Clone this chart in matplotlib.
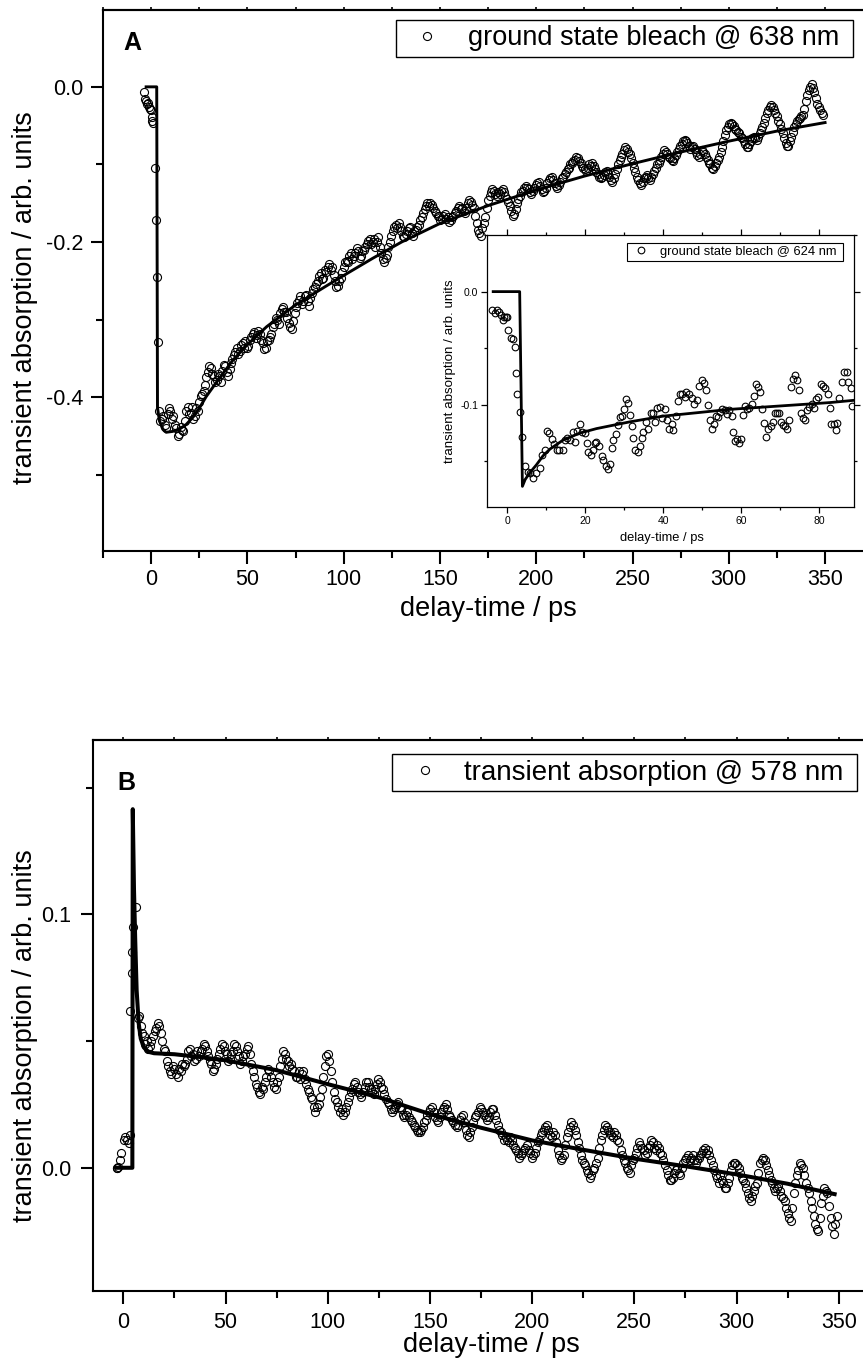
import numpy as np
import matplotlib
matplotlib.use("Agg")
import matplotlib.pyplot as plt
from matplotlib.ticker import MultipleLocator, FuncFormatter

plt.rcParams['font.family'] = ['Liberation Sans', 'DejaVu Sans']
plt.rcParams['axes.unicode_minus'] = False

# ---------------- Panel A: ground state bleach @ 638 nm ----------------
a_early_t = [-3.8, -3.3, -2.8, -2.3, -1.8, -1.3, -0.8, -0.3, 0.2, 0.7, 1.2, 2.1, 2.6, 3.3, 3.5]
a_early_v = [-0.006, -0.016, -0.018, -0.022, -0.021, -0.026, -0.028, -0.030, -0.039, -0.044,
             -0.046, -0.105, -0.172, -0.245, -0.329]
# delay grid (1.5 ps step) and the interleaved half-step grid
a_t = np.arange(4.0, 349.01, 1.5)
a_v = [-0.418, -0.428, -0.436, -0.422, -0.418, -0.424, -0.440, -0.447, -0.442, -0.430,
       -0.412, -0.420, -0.428, -0.414, -0.406, -0.396, -0.384, -0.368, -0.362, -0.372,
       -0.378, -0.372, -0.366, -0.360, -0.372, -0.356, -0.346, -0.336, -0.340, -0.330,
       -0.328, -0.334, -0.322, -0.316, -0.320, -0.318, -0.330, -0.336, -0.326, -0.318,
       -0.306, -0.300, -0.292, -0.284, -0.290, -0.304, -0.312, -0.292, -0.278, -0.270,
       -0.276, -0.268, -0.282, -0.266, -0.258, -0.250, -0.240, -0.246, -0.238, -0.228,
       -0.232, -0.250, -0.256, -0.246, -0.232, -0.224, -0.218, -0.222, -0.214, -0.212,
       -0.218, -0.210, -0.202, -0.196, -0.200, -0.206, -0.194, -0.214, -0.226, -0.216,
       -0.200, -0.186, -0.178, -0.176, -0.186, -0.194, -0.186, -0.180, -0.192, -0.184,
       -0.178, -0.168, -0.158, -0.150, -0.150, -0.156, -0.162, -0.166, -0.170, -0.164,
       -0.168, -0.172, -0.166, -0.160, -0.154, -0.156, -0.162, -0.150, -0.148, -0.156,
       -0.176, -0.188, -0.182, -0.168, -0.146, -0.136, -0.134, -0.140, -0.138, -0.132,
       -0.140, -0.148, -0.160, -0.164, -0.150, -0.140, -0.134, -0.128, -0.132, -0.138,
       -0.130, -0.124, -0.128, -0.136, -0.130, -0.120, -0.116, -0.124, -0.130, -0.122,
       -0.116, -0.110, -0.104, -0.098, -0.094, -0.092, -0.098, -0.104, -0.108, -0.100,
       -0.098, -0.106, -0.112, -0.118, -0.114, -0.108, -0.116, -0.122, -0.112, -0.100,
       -0.090, -0.082, -0.080, -0.086, -0.098, -0.110, -0.120, -0.126, -0.118, -0.114,
       -0.120, -0.112, -0.104, -0.098, -0.090, -0.082, -0.086, -0.092, -0.096, -0.088,
       -0.080, -0.074, -0.068, -0.072, -0.080, -0.076, -0.084, -0.090, -0.082, -0.086,
       -0.094, -0.100, -0.106, -0.098, -0.090, -0.078, -0.062, -0.052, -0.046, -0.050,
       -0.056, -0.060, -0.066, -0.074, -0.078, -0.070, -0.064, -0.068, -0.060, -0.052,
       -0.040, -0.030, -0.024, -0.030, -0.038, -0.048, -0.060, -0.072, -0.076, -0.064,
       -0.052, -0.044, -0.040, -0.036, -0.018, -0.004, 0.004, -0.006, -0.022, -0.030,
       -0.036]
a_t_half = np.arange(4.75, 348.3, 1.5)
a_v_half = [-0.430, -0.424, -0.439, -0.414, -0.428, -0.436, -0.450, -0.438, -0.444, -0.418,
            -0.422, -0.413, -0.424, -0.418, -0.398, -0.392, -0.374, -0.360, -0.370, -0.380,
            -0.370, -0.380, -0.358, -0.368, -0.364, -0.350, -0.342, -0.344, -0.332, -0.336,
            -0.336, -0.326, -0.318, -0.324, -0.314, -0.326, -0.338, -0.328, -0.322, -0.310,
            -0.298, -0.306, -0.286, -0.290, -0.298, -0.310, -0.302, -0.284, -0.274, -0.280,
            -0.270, -0.276, -0.272, -0.260, -0.254, -0.244, -0.248, -0.236, -0.232, -0.236,
            -0.242, -0.258, -0.250, -0.238, -0.226, -0.226, -0.214, -0.218, -0.208, -0.220,
            -0.212, -0.206, -0.198, -0.202, -0.196, -0.200, -0.206, -0.222, -0.220, -0.206,
            -0.192, -0.180, -0.182, -0.180, -0.192, -0.190, -0.182, -0.188, -0.186, -0.180,
            -0.172, -0.162, -0.154, -0.154, -0.152, -0.160, -0.166, -0.172, -0.166, -0.170,
            -0.174, -0.168, -0.162, -0.156, -0.158, -0.160, -0.156, -0.146, -0.152, -0.166,
            -0.184, -0.192, -0.176, -0.156, -0.140, -0.132, -0.138, -0.136, -0.134, -0.136,
            -0.144, -0.154, -0.166, -0.158, -0.144, -0.136, -0.130, -0.130, -0.136, -0.134,
            -0.126, -0.122, -0.132, -0.134, -0.124, -0.118, -0.120, -0.128, -0.126, -0.118,
            -0.112, -0.106, -0.100, -0.096, -0.090, -0.096, -0.102, -0.106, -0.104, -0.102,
            -0.102, -0.110, -0.116, -0.116, -0.110, -0.112, -0.120, -0.118, -0.106, -0.094,
            -0.086, -0.078, -0.084, -0.092, -0.104, -0.116, -0.124, -0.122, -0.116, -0.118,
            -0.116, -0.108, -0.100, -0.094, -0.086, -0.084, -0.090, -0.094, -0.092, -0.084,
            -0.076, -0.070, -0.070, -0.076, -0.078, -0.080, -0.088, -0.086, -0.084, -0.090,
            -0.098, -0.104, -0.102, -0.094, -0.084, -0.070, -0.056, -0.048, -0.048, -0.054,
            -0.058, -0.064, -0.070, -0.078, -0.074, -0.066, -0.066, -0.064, -0.056, -0.046,
            -0.034, -0.026, -0.026, -0.034, -0.044, -0.054, -0.066, -0.076, -0.070, -0.058,
            -0.048, -0.042, -0.038, -0.028, -0.010, 0.000, -0.002, -0.014, -0.026, -0.034]
a_fit_t = [-2.6, 2.9, 3.3, 4.3, 6.0, 7.8, 11.0, 14.7, 18.2, 21.6, 25.0, 28.6, 33.8, 42.5,
           50.0, 60.0, 75.0, 90.0, 100.0, 115.0, 130.0, 150.0, 175.0, 200.0, 225.0, 250.0,
           275.0, 300.0, 325.0, 350.0]
a_fit_v = [0.0, 0.0, -0.413, -0.430, -0.441, -0.445, -0.444, -0.441, -0.435, -0.426, -0.414,
           -0.399, -0.381, -0.352, -0.332, -0.309, -0.281, -0.258, -0.243, -0.221, -0.200,
           -0.176, -0.153, -0.133, -0.115, -0.099, -0.084, -0.070, -0.057, -0.046]

# ---------------- Inset: ground state bleach @ 624 nm ----------------
in_t = [-3.8, -3.2, -2.6, -2.1, -1.7, -1.2, -0.8, -0.3, 0.0, 0.3,
        0.9, 1.4, 2.0, 2.2, 2.6, 3.3, 3.9, 4.5, 5.4, 5.8,
        6.7, 7.5, 8.4, 8.8, 9.7, 10.3, 10.8, 11.4, 12.0, 12.7,
        13.3, 14.2, 14.8, 15.4, 16.1, 16.8, 17.4, 18.0, 18.8, 19.3,
        19.9, 20.4, 20.8, 21.4, 21.9, 22.5, 22.9, 23.6, 24.2, 24.6,
        25.3, 25.9, 26.3, 26.8, 27.2, 27.8, 28.5, 28.9, 29.5, 29.9,
        30.5, 31.0, 31.5, 31.9, 32.3, 32.9, 33.6, 34.0, 34.5, 34.9,
        35.6, 36.2, 36.8, 37.3, 37.9, 38.5, 39.2, 39.8, 40.5, 41.1,
        41.6, 42.2, 42.6, 43.3, 43.9, 44.3, 44.9, 45.6, 46.0, 46.6,
        47.3, 47.9, 48.6, 49.2, 49.9, 50.5, 51.0, 51.4, 52.0, 52.5,
        53.0, 53.6, 54.1, 54.6, 55.2, 55.8, 56.5, 57.0, 57.6, 58.0,
        58.4, 59.0, 59.5, 59.9, 60.4, 61.0, 61.6, 62.1, 62.7, 63.3,
        63.8, 64.4, 64.8, 65.4, 65.9, 66.4, 67.0, 67.6, 68.3, 68.7,
        69.3, 69.8, 70.2, 70.8, 71.3, 71.9, 72.4, 72.8, 73.4, 73.8,
        74.3, 74.9, 75.3, 75.8, 76.4, 77.0, 77.5, 78.1, 78.7, 79.2,
        79.8, 80.4, 81.1, 81.6, 82.2, 82.8, 83.2, 83.8, 84.3, 84.7,
        85.2, 85.8, 86.4, 87.1, 87.5, 88.1, 88.6]
in_v = [-0.016, -0.019, -0.016, -0.018, -0.021, -0.025, -0.022, -0.022, -0.022, -0.034,
        -0.041, -0.042, -0.049, -0.072, -0.090, -0.106, -0.128, -0.154, -0.159, -0.160,
        -0.165, -0.160, -0.156, -0.144, -0.140, -0.123, -0.125, -0.130, -0.135, -0.140,
        -0.140, -0.140, -0.131, -0.129, -0.131, -0.124, -0.133, -0.123, -0.117, -0.124,
        -0.125, -0.134, -0.142, -0.144, -0.140, -0.134, -0.133, -0.136, -0.145, -0.149,
        -0.154, -0.157, -0.152, -0.138, -0.131, -0.126, -0.118, -0.111, -0.110, -0.104,
        -0.095, -0.098, -0.109, -0.119, -0.129, -0.140, -0.142, -0.136, -0.129, -0.124,
        -0.115, -0.121, -0.107, -0.107, -0.115, -0.103, -0.102, -0.112, -0.104, -0.113,
        -0.121, -0.117, -0.122, -0.110, -0.097, -0.090, -0.090, -0.093, -0.089, -0.090,
        -0.094, -0.099, -0.096, -0.083, -0.078, -0.081, -0.087, -0.100, -0.113, -0.121,
        -0.117, -0.110, -0.111, -0.106, -0.104, -0.105, -0.108, -0.105, -0.110, -0.124,
        -0.132, -0.130, -0.134, -0.130, -0.109, -0.101, -0.104, -0.103, -0.099, -0.092,
        -0.082, -0.084, -0.089, -0.104, -0.116, -0.128, -0.121, -0.119, -0.115, -0.107,
        -0.107, -0.107, -0.115, -0.118, -0.119, -0.121, -0.113, -0.084, -0.077, -0.074,
        -0.078, -0.087, -0.107, -0.112, -0.113, -0.105, -0.102, -0.099, -0.103, -0.095,
        -0.093, -0.082, -0.083, -0.085, -0.090, -0.103, -0.117, -0.117, -0.122, -0.116,
        -0.094, -0.080, -0.071, -0.071, -0.080, -0.085, -0.101]
in_fit_t = [-3.6, 3.2, 3.9, 4.6, 5.8, 7.5, 9.2, 11.0, 14.4, 18.6, 22.9, 27.2, 31.5, 40.0,
            48.6, 57.1, 65.7, 74.3, 82.8, 89.0]
in_fit_v = [0.0, 0.0, -0.172, -0.166, -0.160, -0.153, -0.145, -0.139, -0.131, -0.125,
            -0.121, -0.118, -0.115, -0.110, -0.107, -0.104, -0.102, -0.100, -0.098, -0.096]

# ---------------- Panel B: transient absorption @ 578 nm ----------------
b_early_t = [-3.2, -3.0, -2.8, -1.6, -1.1, 0.3, 0.9, 1.6, 2.6, 3.1, 3.3, 4.1, 4.4, 4.9, 6.2]
b_early_v = [0.0, 0.0, 0.0005, 0.003, 0.006, 0.011, 0.012, 0.011, 0.0096, 0.013,
             0.062, 0.077, 0.085, 0.095, 0.103]
b_t = np.arange(7.0, 349.01, 1.5)
b_v = [0.059, 0.056, 0.052, 0.050, 0.048, 0.052, 0.055, 0.056, 0.050, 0.046,
       0.040, 0.037, 0.039, 0.036, 0.038, 0.040, 0.043, 0.047, 0.045, 0.043,
       0.044, 0.047, 0.048, 0.044, 0.041, 0.039, 0.043, 0.047, 0.048, 0.045,
       0.043, 0.046, 0.048, 0.044, 0.042, 0.045, 0.048, 0.041, 0.036, 0.032,
       0.029, 0.031, 0.036, 0.038, 0.034, 0.031, 0.036, 0.043, 0.045, 0.042,
       0.041, 0.038, 0.036, 0.035, 0.038, 0.033, 0.030, 0.027, 0.022, 0.025,
       0.031, 0.040, 0.045, 0.038, 0.030, 0.026, 0.022, 0.021, 0.024, 0.028,
       0.031, 0.034, 0.030, 0.028, 0.032, 0.034, 0.031, 0.029, 0.033, 0.034,
       0.031, 0.027, 0.025, 0.022, 0.024, 0.026, 0.023, 0.020, 0.022, 0.019,
       0.017, 0.015, 0.014, 0.016, 0.019, 0.022, 0.024, 0.020, 0.018, 0.022,
       0.024, 0.023, 0.020, 0.018, 0.016, 0.019, 0.021, 0.015, 0.012, 0.016,
       0.020, 0.022, 0.023, 0.021, 0.019, 0.022, 0.023, 0.019, 0.015, 0.013,
       0.012, 0.010, 0.011, 0.008, 0.006, 0.005, 0.007, 0.009, 0.006, 0.005,
       0.008, 0.011, 0.014, 0.016, 0.015, 0.012, 0.013, 0.007, 0.003, 0.005,
       0.012, 0.016, 0.017, 0.013, 0.008, 0.003, 0.001, -0.002, -0.003, 0.000,
       0.004, 0.011, 0.015, 0.016, 0.014, 0.012, 0.013, 0.010, 0.005, 0.002,
       -0.001, 0.001, 0.004, 0.008, 0.009, 0.007, 0.006, 0.009, 0.010, 0.007,
       0.008, 0.005, 0.001, -0.003, -0.005, -0.002, 0.000, -0.003, 0.002, 0.004,
       0.003, 0.005, 0.002, 0.004, 0.006, 0.008, 0.007, 0.003, -0.001, -0.004,
       -0.003, -0.006, -0.008, -0.004, 0.001, 0.002, 0.000, -0.004, -0.006, -0.010,
       -0.013, -0.009, -0.006, 0.002, 0.004, 0.001, -0.003, -0.006, -0.009, -0.007,
       -0.011, -0.013, -0.018, -0.021, -0.010, -0.003, 0.002, 0.000, -0.006, -0.010,
       -0.016, -0.022, -0.025, -0.014, -0.008, -0.010, -0.020, -0.026, -0.019]
b_t_half = np.arange(7.75, 348.3, 1.5)
b_v_half = [0.060, 0.053, 0.049, 0.047, 0.050, 0.054, 0.057, 0.053, 0.047, 0.042,
            0.038, 0.040, 0.037, 0.039, 0.041, 0.041, 0.046, 0.044, 0.042, 0.046,
            0.046, 0.049, 0.046, 0.042, 0.038, 0.041, 0.045, 0.049, 0.046, 0.042,
            0.045, 0.049, 0.046, 0.041, 0.044, 0.047, 0.045, 0.038, 0.033, 0.030,
            0.032, 0.034, 0.039, 0.036, 0.032, 0.034, 0.040, 0.046, 0.043, 0.040,
            0.039, 0.036, 0.038, 0.037, 0.035, 0.031, 0.028, 0.024, 0.024, 0.028,
            0.036, 0.044, 0.042, 0.034, 0.027, 0.024, 0.023, 0.022, 0.026, 0.030,
            0.033, 0.032, 0.029, 0.030, 0.034, 0.032, 0.030, 0.031, 0.035, 0.032,
            0.029, 0.026, 0.023, 0.023, 0.025, 0.024, 0.021, 0.021, 0.020, 0.018,
            0.016, 0.014, 0.015, 0.018, 0.021, 0.023, 0.022, 0.019, 0.020, 0.023,
            0.025, 0.021, 0.019, 0.017, 0.017, 0.020, 0.018, 0.013, 0.014, 0.018,
            0.021, 0.024, 0.022, 0.020, 0.020, 0.023, 0.021, 0.017, 0.014, 0.011,
            0.011, 0.012, 0.009, 0.007, 0.004, 0.006, 0.008, 0.007, 0.004, 0.006,
            0.010, 0.013, 0.015, 0.017, 0.013, 0.014, 0.010, 0.005, 0.004, 0.009,
            0.014, 0.018, 0.015, 0.010, 0.005, 0.002, -0.001, -0.004, -0.001, 0.002,
            0.008, 0.013, 0.017, 0.015, 0.013, 0.014, 0.011, 0.007, 0.003, 0.000,
            -0.002, 0.003, 0.006, 0.010, 0.008, 0.005, 0.008, 0.011, 0.008, 0.009,
            0.006, 0.003, -0.001, -0.005, -0.004, -0.001, -0.002, 0.000, 0.003, 0.005,
            0.004, 0.003, 0.003, 0.005, 0.007, 0.006, 0.005, 0.001, -0.003, -0.006,
            -0.005, -0.008, -0.006, -0.001, 0.002, 0.001, -0.002, -0.005, -0.008, -0.012,
            -0.011, -0.007, -0.002, 0.003, 0.003, -0.001, -0.005, -0.008, -0.008, -0.009,
            -0.012, -0.016, -0.020, -0.016, -0.006, -0.001, 0.001, -0.003, -0.008, -0.013,
            -0.019, -0.024, -0.020, -0.011, -0.009, -0.015, -0.023, -0.022]
b_fit_t = [-3.2, 4.4, 4.6, 5.2, 5.8, 6.5, 7.5, 8.5, 10.0, 12.0, 15.0, 25.0, 37.5, 50.0,
           75.0, 100.0, 125.0, 150.0, 175.0, 200.0, 225.0, 250.0, 275.0, 300.0, 325.0, 348.0]
b_fit_v = [0.0, 0.0, 0.1415, 0.110, 0.090, 0.070, 0.057, 0.051, 0.0475, 0.0458, 0.0452,
           0.0448, 0.0437, 0.0424, 0.0385, 0.0330, 0.0278, 0.0212, 0.0158, 0.0108, 0.0071,
           0.0036, 0.0006, -0.0026, -0.0063, -0.0104]

label_a = 'ground state bleach @ 638 nm'
label_in = 'ground state bleach @ 624 nm'
label_b = 'transient absorption @ 578 nm'
xlabel = 'delay-time / ps'
ylabel = 'transient absorption / arb. units'


def one_decimal(v, pos):
    if abs(v) < 1e-9:
        return '0.0'
    return '%.1f' % v


def style_axes(ax, tick_size, pad_x, pad_y, spine_w):
    for side in ('left', 'bottom', 'top', 'right'):
        ax.spines[side].set_linewidth(spine_w)
    ax.tick_params(axis='both', which='both', direction='out', width=spine_w,
                   labelsize=tick_size, colors='k')
    ax.tick_params(axis='x', which='major', pad=pad_x)
    ax.tick_params(axis='y', which='major', pad=pad_y)
    ax.yaxis.set_major_formatter(FuncFormatter(one_decimal))


def merge(t_lists, v_lists):
    t_all = np.concatenate([np.asarray(t, dtype=float) for t in t_lists])
    v_all = np.concatenate([np.asarray(v, dtype=float) for v in v_lists])
    order = np.argsort(t_all, kind='stable')
    return t_all[order], v_all[order]


fig = plt.figure(figsize=(8.63, 13.6), dpi=100)
fig.patch.set_facecolor('white')

marker_kw = dict(linestyle='none', marker='o', mfc='none', mec='k', mew=0.8)

# ---- Panel A ----
axA = fig.add_axes([0.11935, 0.59485, 0.89247, 0.39779])
ta, va = merge([a_early_t, a_t, a_t_half], [a_early_v, a_v, a_v_half])
axA.plot(ta, va, ms=5.8, label=label_a, zorder=2, **marker_kw)
axA.plot(a_fit_t, a_fit_v, color='k', lw=2.1, zorder=3, solid_joinstyle='round')
axA.set_xlim(-25, 375)
axA.set_ylim(-0.598, 0.099)
axA.xaxis.set_major_locator(MultipleLocator(50))
axA.xaxis.set_minor_locator(MultipleLocator(25))
axA.yaxis.set_major_locator(MultipleLocator(0.2))
axA.yaxis.set_minor_locator(MultipleLocator(0.1))
style_axes(axA, 15.5, 4, 5, 1.5)
axA.tick_params(axis='both', which='major', length=9)
axA.tick_params(axis='both', which='minor', length=5)
topA = axA.secondary_xaxis('top')
topA.xaxis.set_major_locator(MultipleLocator(25))
topA.tick_params(length=2.5, width=1.2, labeltop=False)
topA.spines['top'].set_linewidth(1.5)
axA.set_xlabel(xlabel, fontsize=19.5, va='center')
axA.xaxis.set_label_coords(0.5, -0.1066)
axA.set_ylabel(ylabel, fontsize=19.5, va='center')
axA.yaxis.set_label_coords(-0.1013, 0.4686)
axA.text(0.0377, 0.926, 'A', transform=axA.transAxes, fontsize=18, fontweight='bold',
         ha='center', va='baseline')
legA = axA.legend(loc='upper left', bbox_to_anchor=(0.3804, 0.7815, 0.593, 0.2),
                  mode='expand', borderaxespad=0, fontsize=19.5, frameon=True,
                  fancybox=False, edgecolor='k', framealpha=1, handlelength=1.9,
                  handletextpad=0.56, borderpad=0.2, numpoints=1)
legA.get_frame().set_linewidth(1.0)

# ---- Inset ----
axI = fig.add_axes([0.5647, 0.6274, 0.4249, 0.1998])
axI.set_facecolor('white')
axI.plot(in_t, in_v, ms=4.8, label=label_in, zorder=2, **marker_kw)
axI.plot(in_fit_t, in_fit_v, color='k', lw=2.0, zorder=3)
axI.set_xlim(-5.1, 89.0)
axI.set_ylim(-0.19, 0.05)
axI.xaxis.set_major_locator(MultipleLocator(20))
axI.xaxis.set_minor_locator(MultipleLocator(10))
axI.yaxis.set_major_locator(MultipleLocator(0.1))
axI.yaxis.set_minor_locator(MultipleLocator(0.05))
style_axes(axI, 7.5, 2.5, 2.5, 0.9)
axI.tick_params(axis='both', which='major', length=4)
axI.tick_params(axis='both', which='minor', length=2)
axI.tick_params(axis='x', which='both', top=True)
axI.tick_params(axis='y', which='both', right=True)
axI.set_xlabel(xlabel, fontsize=9.3, va='center')
axI.xaxis.set_label_coords(0.4764, -0.116)
axI.set_ylabel(ylabel, fontsize=9.6, va='center')
axI.yaxis.set_label_coords(-0.1017, 0.4976)
legI = axI.legend(loc='upper left', bbox_to_anchor=(0.380, 0.7695, 0.589, 0.2),
                  mode='expand', borderaxespad=0, fontsize=9.3, frameon=True,
                  fancybox=False, edgecolor='k', framealpha=1, handlelength=1.77,
                  handletextpad=0.61, borderpad=0.2, numpoints=1)
legI.get_frame().set_linewidth(0.8)

# ---- Panel B ----
axB = fig.add_axes([0.10742, 0.05096, 0.92364, 0.40493])
tb, vb = merge([b_early_t, b_t, b_t_half], [b_early_v, b_v, b_v_half])
axB.plot(tb, vb, ms=5.8, label=label_b, zorder=2, **marker_kw)
axB.plot(b_fit_t, b_fit_v, color='k', lw=2.9, zorder=3, solid_joinstyle='round')
axB.set_xlim(-15, 375)
axB.set_ylim(-0.0485, 0.1688)
axB.xaxis.set_major_locator(MultipleLocator(50))
axB.xaxis.set_minor_locator(MultipleLocator(25))
axB.yaxis.set_major_locator(MultipleLocator(0.1))
axB.yaxis.set_minor_locator(MultipleLocator(0.05))
style_axes(axB, 15.5, 6, 6.5, 1.5)
axB.tick_params(axis='both', which='major', length=9)
axB.tick_params(axis='both', which='minor', length=5)
topB = axB.secondary_xaxis('top')
topB.xaxis.set_major_locator(MultipleLocator(25))
topB.tick_params(length=2.5, width=1.2, labeltop=False)
topB.spines['top'].set_linewidth(1.5)
axB.set_xlabel(xlabel, fontsize=19.5, va='center')
axB.xaxis.set_label_coords(0.5, -0.098)
axB.set_ylabel(ylabel, fontsize=19.5, va='center')
axB.yaxis.set_label_coords(-0.085, 0.464)
axB.text(0.0418, 0.909, 'B', transform=axB.transAxes, fontsize=18, fontweight='bold',
         ha='center', va='baseline')
legB = axB.legend(loc='upper left', bbox_to_anchor=(0.3755, 0.774, 0.583, 0.2),
                  mode='expand', borderaxespad=0, fontsize=20, frameon=True,
                  fancybox=False, edgecolor='k', framealpha=1, handlelength=1.97,
                  handletextpad=0.43, borderpad=0.2, numpoints=1)
legB.get_frame().set_linewidth(1.0)

fig.savefig('out.png', dpi=100)
